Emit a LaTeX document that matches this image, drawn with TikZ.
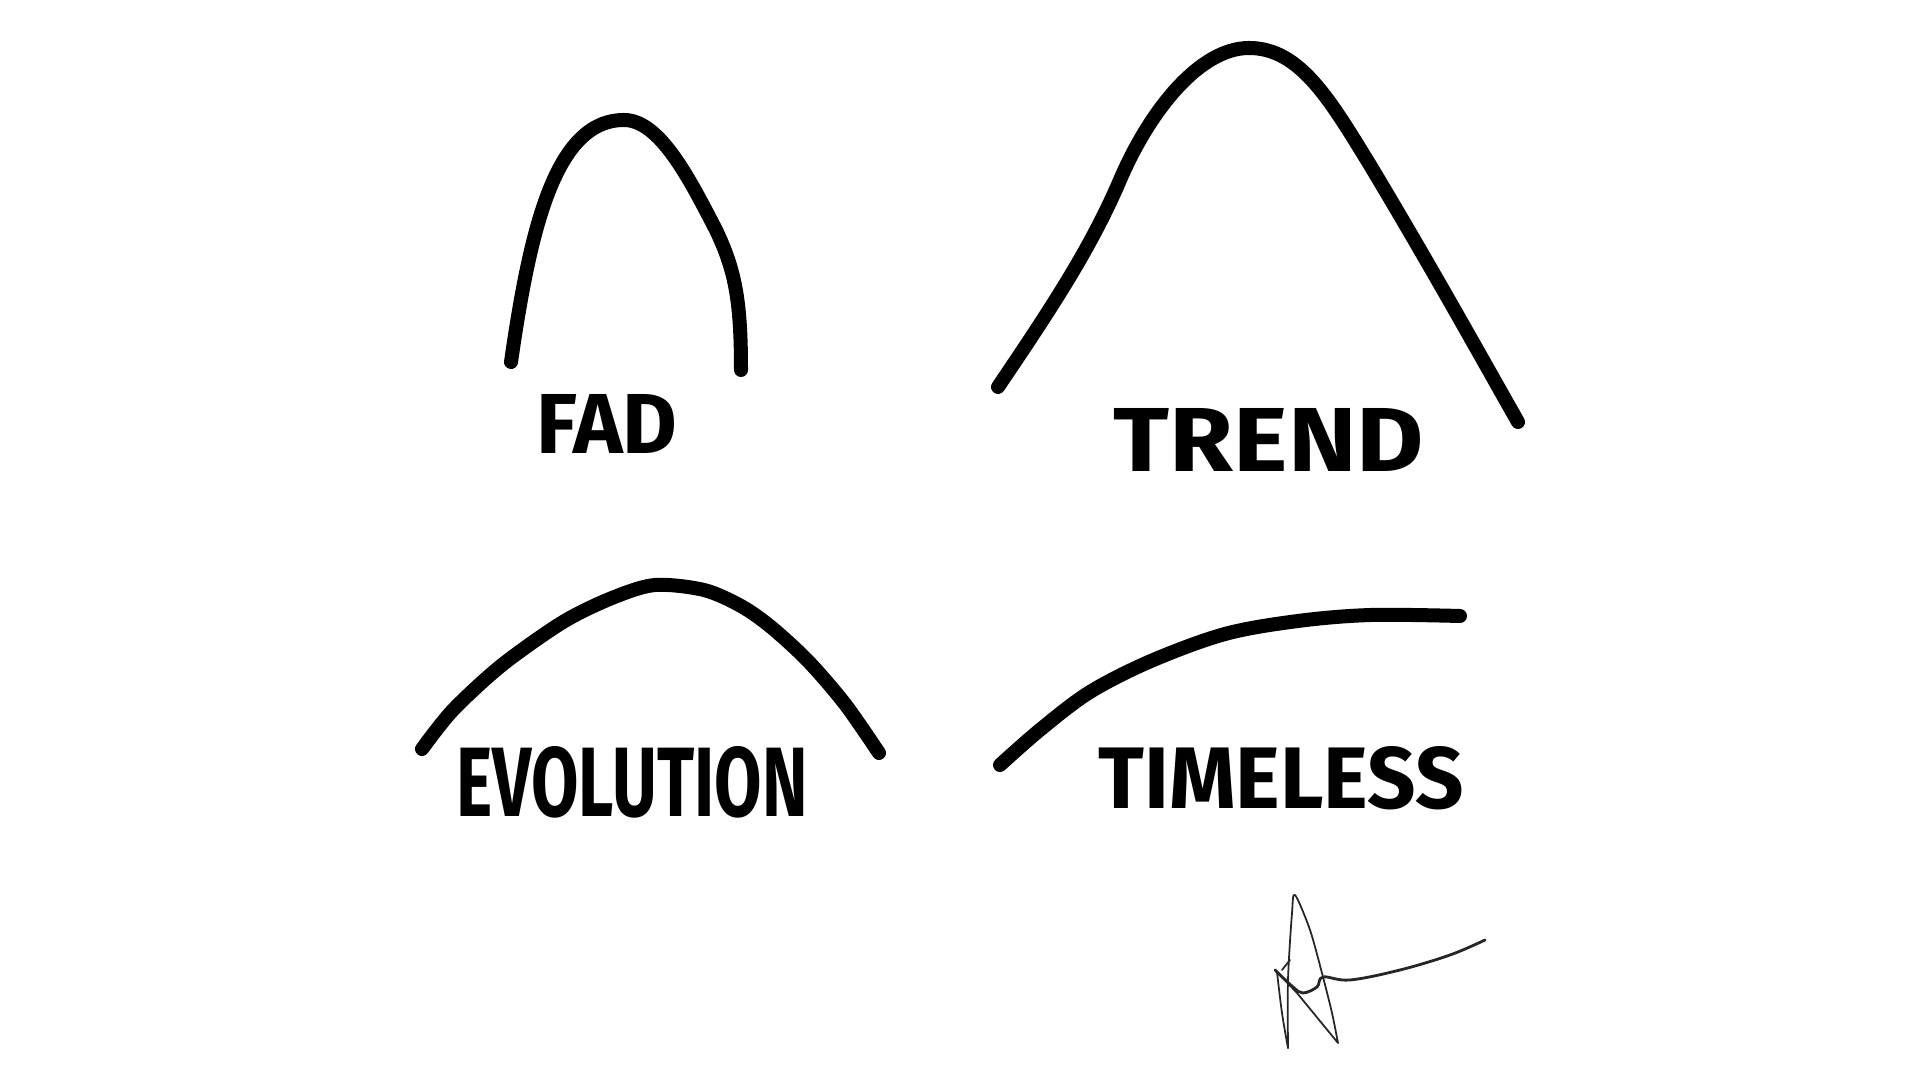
\documentclass[tikz,border=0pt]{standalone}
\usepackage{fontspec}
\setmainfont{Fira Sans}
\usepackage{graphicx}
\newcommand{\handword}[3]{\resizebox{#1}{#2}{\bfseries #3}}
\begin{document}
\begin{tikzpicture}[x=0.01cm,y=-0.01cm,
	curve/.style={line width=0.14cm,line cap=round,line join=round},
	sign/.style={line width=0.5pt,black!85,line cap=round,line join=round},
	every node/.style={inner sep=0,anchor=center}]
\useasboundingbox[fill=white] (0,0) rectangle (1920,1080);
% fad
\draw[curve] (511,362) .. controls (530,230) and (555,120) .. (624,120)
	.. controls (660,120) and (690,180) .. (716,230)
	.. controls (735,270) and (741,300) .. (741,370);
% trend
\draw[curve] (998,387) .. controls (1050,310) and (1090,250) .. (1120,180)
	.. controls (1150,110) and (1200,48) .. (1249,48)
	.. controls (1300,48) and (1330,100) .. (1370,165)
	.. controls (1430,265) and (1480,355) .. (1518,422);
% evolution
\draw[curve] plot[smooth,tension=0.5] coordinates {(422,749) (453,710) (502,665) (563,622) (612,598) (655,585) (704,590) (741,606) (771,627) (808,661) (845,704) (879,753)};
% timeless
\draw[curve] plot[smooth,tension=0.55] coordinates {(1000,765) (1041,729) (1090,692) (1151,661) (1225,634) (1298,621) (1371,615) (1460,616)};
% labels
\node (fad) at (607,424) {\handword{1.41cm}{0.59cm}{FAD}};
\node (trend) at (1269,440) {\handword{3.1cm}{0.63cm}{TREND}};
\node (evolution) at (632,782) {\handword{3.51cm}{0.7cm}{EVOLUTION}};
\node (timeless) at (1281,778) {\handword{3.65cm}{0.62cm}{TIMELESS}};
% signature
\draw[sign] plot[smooth,tension=0.5] coordinates {(1288,1048) (1288,980) (1292,913) (1295,895) (1310,930) (1323,977) (1332,1013) (1338,1043)} -- (1297,993) -- (1277,972);
\draw[sign] plot[smooth,tension=0.6] coordinates {(1277,972) (1282,1013) (1288,1048)};
\draw[sign,line width=0.8pt] plot[smooth,tension=0.6] coordinates {(1275,970) (1293,987) (1303,993) (1317,987) (1323,977) (1350,980) (1400,970) (1450,955) (1485,940)};
\draw[sign] (1290,960) -- (1282,970);
\end{tikzpicture}
\end{document}
